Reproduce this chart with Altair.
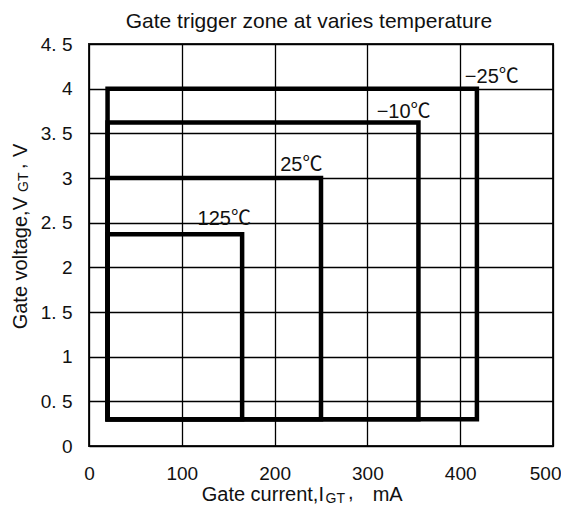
import altair as alt
import pandas as pd

# ---- data ----
temps = ["\u221225\u2103", "\u221210\u2103", "25\u2103", "125\u2103"]
igt_min = [20, 20, 20, 20]          # mA
igt_max = [418, 355, 250, 165]      # mA
vgt_min = [0.3, 0.3, 0.3, 0.3]      # V
vgt_max = [4.0, 3.62, 3.0, 2.37]    # V
label_x = [405, 310, 206, 117]      # label anchor (mA)
label_y = [4.06, 3.67, 3.08, 2.47]  # label anchor (V)

x_ticks = [0, 100, 200, 300, 400, 500]
y_ticks = [0, 0.5, 1, 1.5, 2, 2.5, 3, 3.5, 4, 4.5]

title_text = "Gate trigger zone at varies temperature"

FONT = "Liberation Sans, Arial, Noto Sans CJK SC"
TXT = "#111111"

zones = pd.DataFrame({"temp": temps, "x1": igt_min, "x2": igt_max,
                      "y1": vgt_min, "y2": vgt_max})
labels = pd.DataFrame({"temp": temps, "lx": label_x, "ly": label_y})

xscale = alt.Scale(domain=[0, 500], nice=False)
yscale = alt.Scale(domain=[0, 4.5], nice=False)

xaxis = alt.Axis(values=x_ticks, grid=True, gridColor="black", gridWidth=1.3,
                 domain=False, ticks=False, tickSize=0, title=None,
                 labelFont=FONT, labelFontSize=19, labelColor=TXT,
                 labelBaseline="alphabetic", labelPadding=33, labelFlush=False,
                 labelAlign={"condition": {"test": "datum.value >= 500", "value": "right"},
                             "value": "center"},
                 labelOffset={"condition": {"test": "datum.value >= 500", "value": 8},
                              "value": 0},
                 format="d")
yaxis = alt.Axis(values=y_ticks, grid=True, gridColor="black", gridWidth=1.3,
                 domain=False, ticks=False, tickSize=0, title=None,
                 labelFont=FONT, labelFontSize=19, labelColor=TXT,
                 labelPadding=17, labelFlush=False,
                 labelExpr="replace(format(datum.value, '~g'), '.', '. ')")

rects = alt.Chart(zones).mark_rect(
    fillOpacity=0, stroke="black", strokeWidth=4.5, strokeJoin="miter"
).encode(
    x=alt.X("x1:Q", scale=xscale, axis=xaxis),
    x2="x2:Q",
    y=alt.Y("y1:Q", scale=yscale, axis=yaxis),
    y2="y2:Q",
)

temp_text = alt.Chart(labels).mark_text(
    align="left", baseline="alphabetic", font=FONT, fontSize=20, color=TXT
).encode(
    x=alt.X("lx:Q", scale=xscale),
    y=alt.Y("ly:Q", scale=yscale),
    text="temp:N",
)

one = pd.DataFrame({"k": [0]})


def txt(s, x, y, size, align="left", angle=0):
    kw = dict(text=s, align=align, baseline="alphabetic", font=FONT,
              fontSize=size, color=TXT)
    if angle:
        kw["angle"] = angle
    return alt.Chart(one).mark_text(**kw).encode(x=alt.value(x), y=alt.value(y))


# title and composite axis titles (with subscripts)
pieces = [
    txt(title_text, 220, -15.7, 21, align="center"),
    # x axis title: Gate current, I_GT, mA
    txt("Gate current,I", 112.7, 457, 20),
    txt("GT", 236.5, 459, 14),
    txt(",", 259, 455, 20),
    txt("mA", 283.7, 457, 20),
    # y axis title: Gate voltage, V_GT, V  (rotated)
    txt("Gate voltage,V", -62, 153, 20, align="right", angle=270),
    txt("GT", -61, 148, 14, angle=270),
    txt(",", -64, 125, 20, angle=270),
    txt("V", -62, 113, 20, angle=270),
]

chart = alt.layer(rects, temp_text, *pieces).properties(
    width=464,
    height=402,
    autosize=alt.AutoSizeParams(type="none"),
    padding={"left": 81, "top": 36, "right": 8, "bottom": 60},
    background="white",
).configure_view(stroke="#222222", strokeWidth=2)

chart.save("out.html", embed_options={"renderer": "svg", "actions": False})
